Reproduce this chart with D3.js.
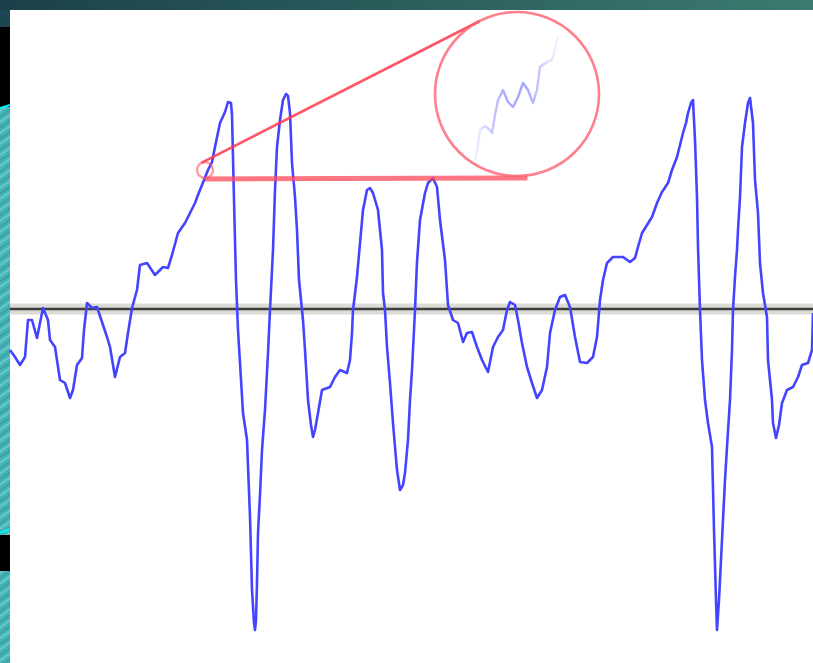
<!DOCTYPE html>
<html>
<head>
<meta charset="utf-8">
<script src="https://cdn.jsdelivr.net/npm/d3@7"></script>
<style>
  html, body { margin: 0; padding: 0; background: #1d4650; }
  svg { display: block; }
</style>
</head>
<body>
<svg id="chart" width="813" height="663"></svg>
<script>
// Sample times of the recorded waveform
const signalT = [
  0,5,10,15,18,22,27,33,38,40,
  45,50,55,60,63,67,72,74,77,82,
  87,92,97,100,105,110,115,118,122,127,
  130,137,145,153,158,162,168,175,180,185,
  188,192,198,202,205,210,215,218,221,222,
  224,226,228,230,233,237,240,242,244,245,
  246,247,248,250,252,255,258,260,263,265,
  267,270,273,276,278,280,282,285,287,289,
  291,293,295,298,301,303,305,308,312,320,
  325,330,337,340,342,343,347,350,353,357,
  360,363,368,372,373,375,377,380,383,385,
  387,390,393,395,398,400,402,403,405,407,
  410,415,418,423,427,430,435,438,443,448,
  453,457,462,467,472,478,483,488,493,497,
  500,505,508,512,517,522,527,532,537,540,
  545,550,555,560,565,570,577,583,587,590,
  593,597,603,613,620,625,628,632,637,642,
  647,652,658,662,667,670,673,676,678,681,
  683,685,687,688,690,692,695,698,702,704,
  706,707,709,712,715,717,720,722,723,725,
  727,728,730,732,735,738,740,743,745,748,
  750,753,757,758,762,763,766,769,772,777,
  783,788,792,798,802,803
];
// Signal amplitude at each sample
const signalV = [
  -0.41,-0.48,-0.56,-0.48,-0.11,-0.11,-0.29,0.01,-0.11,-0.31,
  -0.38,-0.71,-0.74,-0.89,-0.81,-0.56,-0.49,-0.21,0.06,0.01,
  0.02,-0.13,-0.28,-0.38,-0.68,-0.48,-0.44,-0.24,0.01,0.19,
  0.44,0.46,0.34,0.42,0.41,0.54,0.76,0.86,0.96,1.06,
  1.14,1.24,1.39,1.47,1.62,1.86,1.97,2.07,2.06,1.94,
  1.09,0.29,-0.21,-0.54,-1.04,-1.31,-2.08,-2.81,-3.14,-3.21,
  -3.11,-2.74,-2.24,-1.86,-1.41,-1.01,-0.44,-0.01,0.59,1.19,
  1.62,1.89,2.09,2.15,2.13,1.96,1.46,1.12,0.79,0.29,
  0.09,-0.11,-0.41,-0.91,-1.16,-1.28,-1.21,-1.04,-0.81,-0.78,
  -0.68,-0.61,-0.64,-0.51,-0.24,-0.01,0.32,0.66,0.99,1.19,
  1.21,1.16,0.99,0.59,0.16,-0.01,-0.38,-0.74,-1.14,-1.38,
  -1.61,-1.81,-1.76,-1.64,-1.31,-0.91,-0.61,-0.41,-0.01,0.47,
  0.89,1.16,1.26,1.31,1.22,0.89,0.49,0.04,-0.11,-0.14,
  -0.33,-0.24,-0.23,-0.38,-0.51,-0.63,-0.38,-0.28,-0.21,-0.01,
  0.07,0.04,-0.11,-0.34,-0.58,-0.74,-0.89,-0.81,-0.58,-0.24,
  -0.01,0.12,0.14,0.02,-0.28,-0.53,-0.54,-0.48,-0.28,0.09,
  0.29,0.46,0.52,0.52,0.47,0.51,0.62,0.76,0.84,0.92,
  1.06,1.17,1.26,1.39,1.52,1.64,1.76,1.86,1.96,2.06,
  2.09,1.69,1.12,0.62,-0.01,-0.51,-0.91,-1.14,-1.38,-2.21,
  -2.91,-3.21,-2.91,-2.31,-1.71,-1.38,-0.91,-0.41,-0.01,0.32,
  0.59,0.79,1.12,1.62,1.86,2.06,2.11,1.86,1.29,0.96,
  0.46,0.16,-0.08,-0.51,-0.91,-1.14,-1.29,-1.16,-0.94,-0.81,
  -0.78,-0.68,-0.56,-0.54,-0.41,-0.04
];

// Magnified view of the waveform near the focus point (local time / amplitude)
const insetT = [0,2,5,10,15,17,20,23,28,33,38,43,48,53,58,62,65,72,77,80,83];
const insetV = [-0.66,-0.56,-0.36,-0.32,-0.36,-0.39,-0.21,-0.06,0.04,-0.08,-0.13,-0.03,0.11,0.04,-0.09,0.04,0.27,0.32,0.34,0.44,0.57];

// Focus point on the waveform that the lens enlarges
const focusT = 195;
const focusV = 1.39;

const W = 813, H = 663;
const panel = { x: 10, y: 10 };

const svg = d3.select("#chart");
const defs = svg.append("defs");

// Frame: dark teal band along the top, decorated strip on the left
const topGrad = defs.append("linearGradient").attr("id", "topBand")
  .attr("x1", "0%").attr("x2", "100%");
topGrad.append("stop").attr("offset", "0%").attr("stop-color", "#1b4049");
topGrad.append("stop").attr("offset", "100%").attr("stop-color", "#3b7b70");
svg.append("rect").attr("x", 0).attr("y", 0).attr("width", W).attr("height", panel.y)
  .attr("fill", "url(#topBand)");

const stripe = defs.append("pattern").attr("id", "swirl")
  .attr("patternUnits", "userSpaceOnUse").attr("width", 10).attr("height", 9)
  .attr("patternTransform", "rotate(-35)");
stripe.append("rect").attr("width", 10).attr("height", 9).attr("fill", "#45b4b4");
stripe.append("rect").attr("y", 0).attr("width", 10).attr("height", 2).attr("fill", "#6cc6c8");
stripe.append("rect").attr("y", 5).attr("width", 10).attr("height", 1.5).attr("fill", "#3a9aa6");

const leftStrip = [
  { y0: 10, y1: 27, fill: "#1d4650" },
  { y0: 27, y1: 107, fill: "#000000" },
  { y0: 107, y1: 535, fill: "url(#swirl)" },
  { y0: 535, y1: 571, fill: "#000000" },
  { y0: 571, y1: 663, fill: "url(#swirl)" }
];
svg.append("g").selectAll("rect").data(leftStrip).join("rect")
  .attr("x", 0).attr("y", d => d.y0).attr("width", panel.x).attr("height", d => d.y1 - d.y0)
  .attr("fill", d => d.fill);
svg.append("line").attr("x1", 0).attr("x2", panel.x).attr("y1", 108).attr("y2", 105)
  .attr("stroke", "#00f4ff").attr("stroke-width", 2);
svg.append("line").attr("x1", 0).attr("x2", panel.x).attr("y1", 533).attr("y2", 529)
  .attr("stroke", "#00f4ff").attr("stroke-width", 2);

// Plot panel
svg.append("rect").attr("x", panel.x).attr("y", panel.y)
  .attr("width", W - panel.x).attr("height", H - panel.y).attr("fill", "#ffffff");

// Scales
const x = d3.scaleLinear().domain([0, 803]).range([panel.x, W]);
const y = d3.scaleLinear().domain([-3.5, 3.0]).range([659, 9]);

// Zero reference line with its soft halo
svg.append("line").attr("x1", x(0)).attr("x2", x(803)).attr("y1", y(0)).attr("y2", y(0))
  .attr("stroke", "#dcdcd6").attr("stroke-width", 11);
svg.append("line").attr("x1", x(0)).attr("x2", x(803)).attr("y1", y(0)).attr("y2", y(0))
  .attr("stroke", "#3d3d3d").attr("stroke-width", 2.6);

// Waveform
const signal = signalT.map((t, i) => [t, signalV[i]]);
const line = d3.line().x(d => x(d[0])).y(d => y(d[1]));
svg.append("path").datum(signal)
  .attr("d", line)
  .attr("fill", "none")
  .attr("stroke", "#4444ff")
  .attr("stroke-width", 2.6)
  .attr("stroke-linejoin", "round");

// Lens: small ring at the focus point, large circle holding the enlarged view
const small = { x: x(focusT), y: y(focusV), r: 8 };
const big = { x: 517, y: 94, r: 82 };

// External tangents joining the two circles
function tangents(c1, c2) {
  const dx = c2.x - c1.x, dy = c2.y - c1.y;
  const d = Math.hypot(dx, dy);
  const base = Math.atan2(dy, dx);
  const a = Math.acos((c2.r - c1.r) / d);
  return [base + a, base - a].map(phi => {
    const nx = Math.cos(phi), ny = Math.sin(phi);
    return {
      x1: c1.x - c1.r * nx, y1: c1.y - c1.r * ny,
      x2: c2.x - c2.r * nx, y2: c2.y - c2.r * ny
    };
  });
}
const [upper, lower] = tangents(small, big);

const lens = svg.append("g");
lens.append("line")
  .attr("x1", upper.x1).attr("y1", upper.y1).attr("x2", upper.x2).attr("y2", upper.y2)
  .attr("stroke", "#ff3a4c").attr("stroke-width", 2.8).attr("stroke-opacity", 0.85);
lens.append("line")
  .attr("x1", lower.x1).attr("y1", lower.y1 + 1).attr("x2", lower.x2 + 10).attr("y2", lower.y2 + 2)
  .attr("stroke", "#ff4a58").attr("stroke-width", 5).attr("stroke-opacity", 0.75);
lens.append("circle")
  .attr("cx", small.x).attr("cy", small.y).attr("r", small.r)
  .attr("fill", "none").attr("stroke", "#ff4a58").attr("stroke-width", 2.4).attr("stroke-opacity", 0.55);
lens.append("circle")
  .attr("cx", big.x).attr("cy", big.y).attr("r", big.r)
  .attr("fill", "none")
  .attr("stroke", "#ff6070").attr("stroke-width", 2.6).attr("stroke-opacity", 0.8);

// Enlarged waveform inside the lens, fading towards both ends
const ix = d3.scaleLinear().domain([0, 100]).range([475, 575]);
const iy = d3.scaleLinear().domain([-1, 1]).range([big.y + 100, big.y - 100]);
const fade = defs.append("linearGradient").attr("id", "insetFade")
  .attr("gradientUnits", "userSpaceOnUse")
  .attr("x1", ix(0)).attr("x2", ix(83)).attr("y1", 0).attr("y2", 0);
fade.append("stop").attr("offset", "0%").attr("stop-color", "#6a6aff").attr("stop-opacity", 0.1);
fade.append("stop").attr("offset", "35%").attr("stop-color", "#6a6aff").attr("stop-opacity", 0.55);
fade.append("stop").attr("offset", "60%").attr("stop-color", "#6a6aff").attr("stop-opacity", 0.6);
fade.append("stop").attr("offset", "100%").attr("stop-color", "#6a6aff").attr("stop-opacity", 0.08);

const inset = insetT.map((t, i) => [t, insetV[i]]);
lens.append("path").datum(inset)
  .attr("d", d3.line().x(d => ix(d[0])).y(d => iy(d[1])))
  .attr("fill", "none")
  .attr("stroke", "url(#insetFade)")
  .attr("stroke-width", 2.4)
  .attr("stroke-linejoin", "round");
</script>
</body>
</html>
